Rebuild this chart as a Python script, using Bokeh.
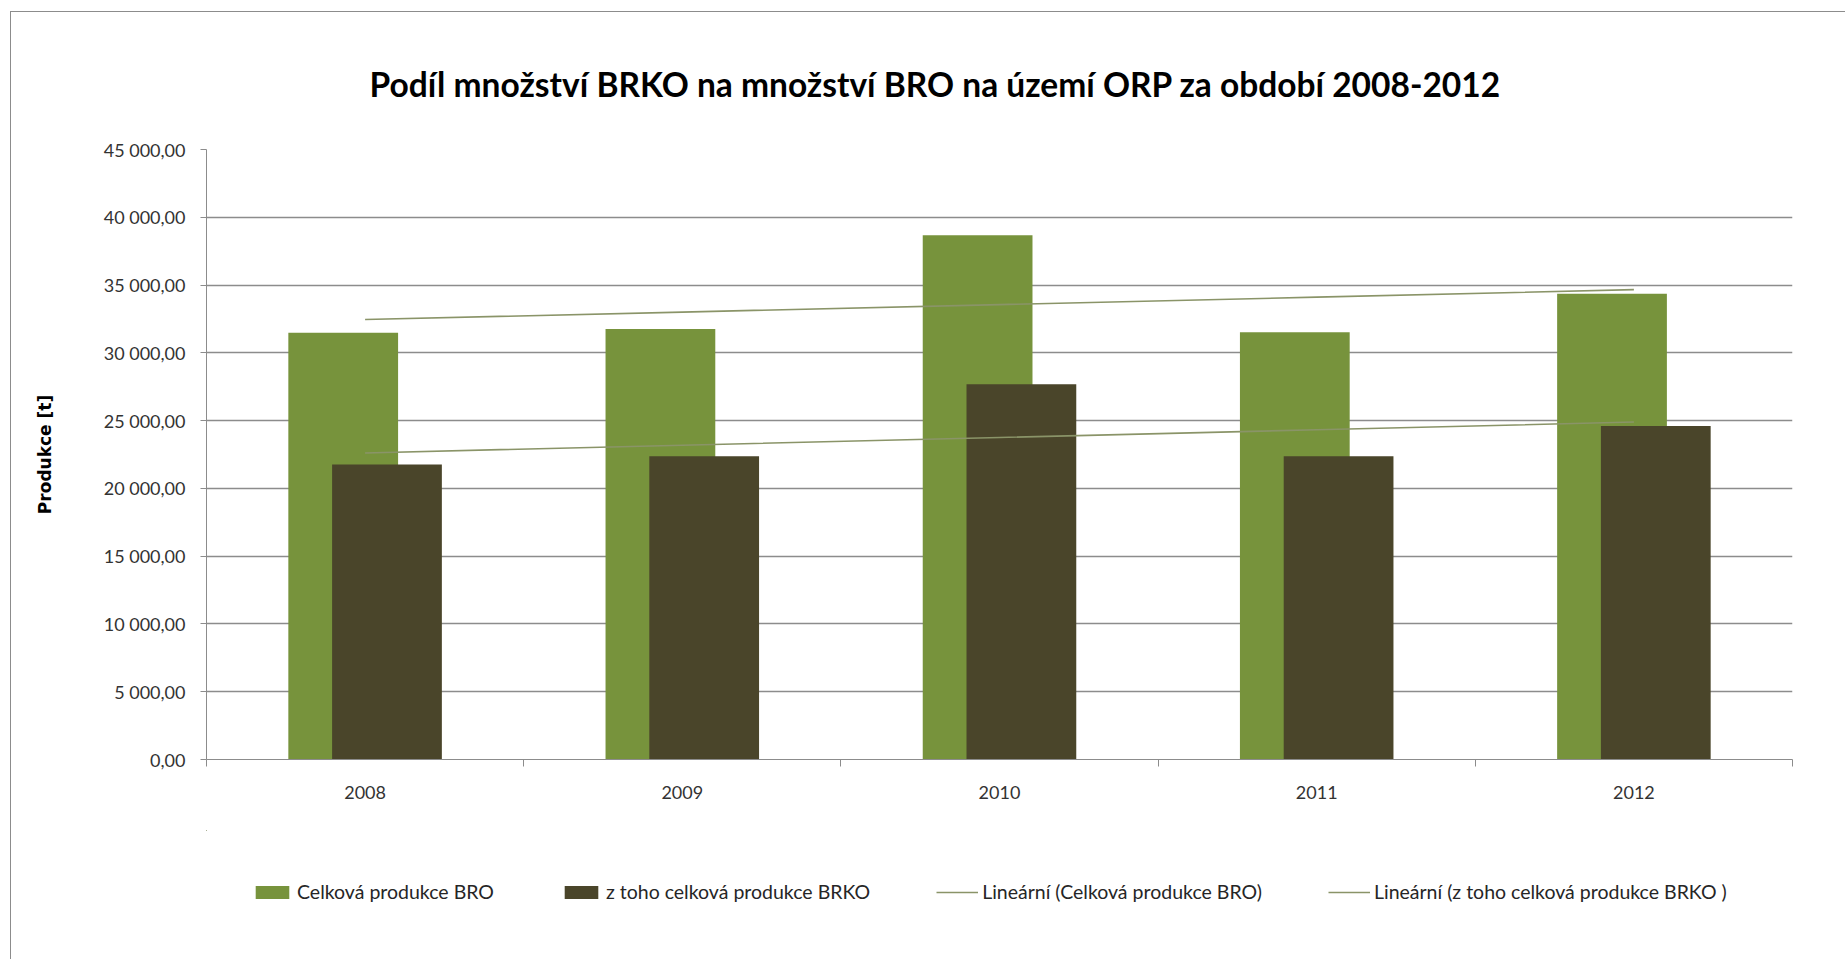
import numpy as np
from bokeh.plotting import figure
from bokeh.layouts import column
from bokeh.models import (ColumnDataSource, Range1d, FixedTicker, Legend, LegendItem)
from bokeh.transform import dodge
from bokeh.embed import file_html
from bokeh.resources import INLINE

# ---- data ----
categories = ["2008", "2009", "2010", "2011", "2012"]
bro_total = [31490, 31755, 38665, 31512, 34366]
brko_total = [21755, 22367, 27677, 22367, 24602]
y_ticks = [0, 5000, 10000, 15000, 20000, 25000, 30000, 35000, 40000, 45000]
y_tick_labels = ["0,00", "5 000,00", "10 000,00", "15 000,00", "20 000,00",
                 "25 000,00", "30 000,00", "35 000,00", "40 000,00", "45 000,00"]
series_names = ["Celková produkce BRO", "z toho celková produkce BRKO",
                "Lineární (Celková produkce BRO)", "Lineární (z toho celková produkce BRKO )"]
title_text = "Podíl množství BRKO na množství BRO na území ORP za období 2008-2012"
y_label_text = "Produkce [t]"

GREEN = "#77933C"
DARK = "#4A452A"
TREND = "#8A9468"
GRID = "#8C8C8C"
FONT = "Lato"

xs = np.arange(1, len(categories) + 1)
src = ColumnDataSource(dict(x=xs, cat=categories, bro=bro_total, brko=brko_total))

# linear trend lines (least squares, like the spreadsheet's linear trendline)
k1, q1 = np.polyfit(xs, bro_total, 1)
k2, q2 = np.polyfit(xs, brko_total, 1)
trend_src = ColumnDataSource(dict(x=xs, t1=k1 * xs + q1, t2=k2 * xs + q2))

W = 1834
H_MAIN, H_LEG = 818, 129
bw = 0.346

p = figure(width=W, height=H_MAIN, output_backend="svg", toolbar_location=None,
           x_range=Range1d(0.5, 5.5), y_range=Range1d(0, 45000),
           min_border_left=195, min_border_right=53, min_border_top=137, min_border_bottom=71)
p.outline_line_color = None
p.background_fill_color = "white"
p.border_fill_color = "white"

# title
p.title.text = title_text
p.title.text_font = FONT
p.title.text_font_style = "bold"
p.title.text_font_size = "33.5px"
p.title.text_color = "black"
p.title.align = "left"
p.title.offset = 163
p.title.standoff = 92

r1 = p.vbar(x=dodge("x", -0.069, range=p.x_range), top="bro", width=bw, bottom=0,
            source=src, fill_color=GREEN, line_color=None)
r2 = p.vbar(x=dodge("x", 0.069, range=p.x_range), top="brko", width=bw, bottom=0,
            source=src, fill_color=DARK, line_color=None)
r3 = p.line(x="x", y="t1", source=trend_src, line_color=TREND, line_width=1.6)
r4 = p.line(x="x", y="t2", source=trend_src, line_color=TREND, line_width=1.6)

# y axis
p.yaxis.ticker = FixedTicker(ticks=y_ticks)
p.yaxis.major_label_overrides = {t: l for t, l in zip(y_ticks, y_tick_labels)}
p.yaxis.minor_tick_line_color = None
p.yaxis.major_tick_out = 6
p.yaxis.major_tick_in = 0
p.yaxis.major_label_standoff = 15
p.yaxis.axis_line_color = GRID
p.yaxis.major_tick_line_color = GRID
p.yaxis.major_label_text_font = FONT
p.yaxis.major_label_text_font_size = "18px"
p.yaxis.major_label_text_color = "#333333"
p.yaxis.axis_label = y_label_text
p.yaxis.axis_label_text_font = "DejaVu Sans"
p.yaxis.axis_label_text_font_style = "bold"
p.yaxis.axis_label_text_font_size = "17px"
p.yaxis.axis_label_text_color = "black"
p.yaxis.axis_label_standoff = 46

# x axis: labels at category centres, ticks between categories
p.xaxis.ticker = FixedTicker(ticks=list(xs), minor_ticks=list(np.arange(0.5, len(categories) + 1, 1.0)))
p.xaxis.major_label_overrides = {int(x): c for x, c in zip(xs, categories)}
p.xaxis.major_tick_out = 0
p.xaxis.major_tick_in = 0
p.xaxis.minor_tick_out = 7
p.xaxis.minor_tick_in = 0
p.xaxis.minor_tick_line_color = GRID
p.xaxis.axis_line_color = GRID
p.xaxis.major_label_standoff = 19
p.xaxis.major_label_text_font = FONT
p.xaxis.major_label_text_font_size = "18px"
p.xaxis.major_label_text_color = "#333333"

p.xgrid.grid_line_color = None
p.ygrid.ticker = FixedTicker(ticks=y_ticks)
p.ygrid.grid_line_color = GRID
p.ygrid.grid_line_width = 1.3

# ---- legend strip below the chart (same series glyphs, data kept out of its view) ----
lp = figure(width=W, height=H_LEG, output_backend="svg", toolbar_location=None,
            x_axis_type=None, y_axis_type=None, min_border=0,
            x_range=Range1d(100, 101), y_range=Range1d(-2e6, -1e6))
lp.outline_line_color = None
lp.grid.grid_line_color = None
lp.background_fill_color = "white"
lp.border_fill_color = "white"
l1 = lp.vbar(x="x", top="bro", width=bw, bottom=0, source=src, fill_color=GREEN, line_color=None)
l2 = lp.vbar(x="x", top="brko", width=bw, bottom=0, source=src, fill_color=DARK, line_color=None)
l3 = lp.line(x="x", y="t1", source=trend_src, line_color=TREND, line_width=1.6)
l4 = lp.line(x="x", y="t2", source=trend_src, line_color=TREND, line_width=1.6)

legend = Legend(items=[LegendItem(label=series_names[0], renderers=[l1]),
                       LegendItem(label=series_names[1], renderers=[l2]),
                       LegendItem(label=series_names[2], renderers=[l3]),
                       LegendItem(label=series_names[3], renderers=[l4])],
                orientation="horizontal", location=(45, 56),
                glyph_width=42, glyph_height=16, label_height=20, label_standoff=4, spacing=66,
                padding=0, margin=0, border_line_color=None, background_fill_alpha=0,
                label_text_font=FONT, label_text_font_size="19.5px", label_text_color="#262626")
lp.add_layout(legend, "center")

layout = column(p, lp, spacing=0, margin=(11, 0, 0, 10),
                styles={"border-left": "1px solid #8c8c8c", "border-top": "1px solid #8c8c8c"})

open("out.html", "w").write(file_html(layout, INLINE))
